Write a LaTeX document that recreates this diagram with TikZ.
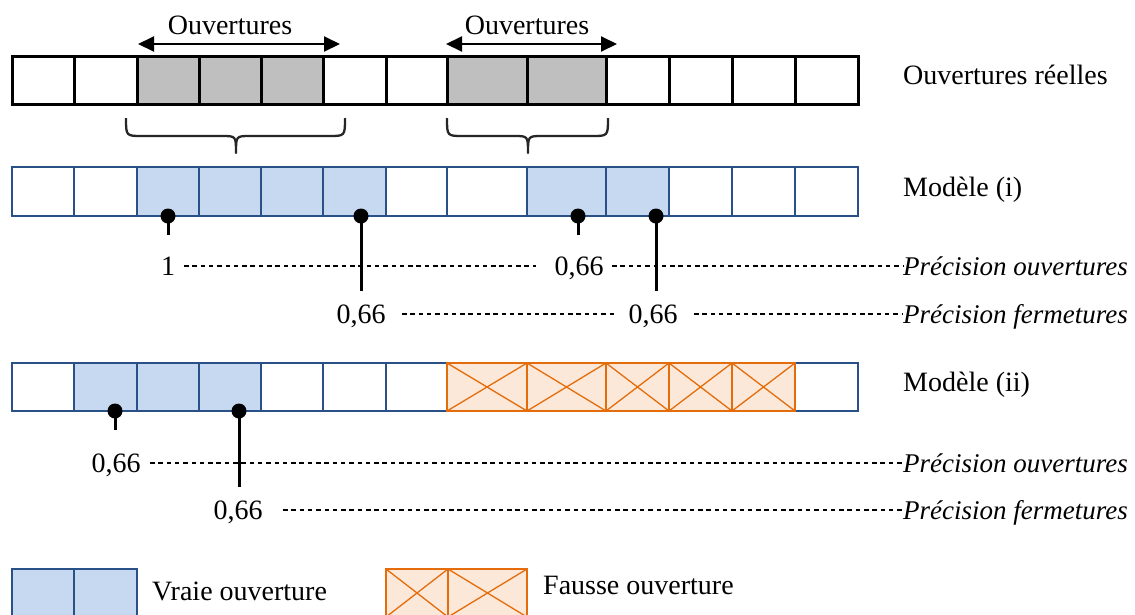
\documentclass[tikz,border=0pt]{standalone}
\usepackage{fontspec}
\setmainfont{Liberation Serif}
\usetikzlibrary{arrows.meta}
\definecolor{gfill}{HTML}{BFBFBF}
\definecolor{bfill}{HTML}{C6D9F0}
\definecolor{bline}{HTML}{2A5088}
\definecolor{ofill}{HTML}{FCE8D9}
\definecolor{oline}{HTML}{E46C0A}
\begin{document}
\begin{tikzpicture}[x=1pt,y=-1pt,
  lbl/.style={font=\fontsize{28}{32}\selectfont,inner sep=0pt},
  ilbl/.style={font=\fontsize{27}{32}\selectfont\itshape,inner sep=0pt},
  cellk/.style={draw=black,line width=3pt},
  cellb/.style={draw=bline,line width=2.6pt},
  ocellfill/.style={fill=ofill},
  ocellline/.style={draw=oline,line width=2.5pt},
  odiag/.style={draw=oline,line width=1.3pt},
  dashline/.style={draw=black,line width=1.1pt,dash pattern=on 4.5pt off 3.8pt},
  pinline/.style={draw=black,line width=3pt},
  pindot/.style={fill=black},
  bracel/.style={draw=black!85,line width=2.3pt,line join=round},
  dblarrow/.style={{Triangle[length=16pt,width=15pt]}-{Triangle[length=16pt,width=15pt]},line width=2pt}
]
\clip (0,0) rectangle (1135,614);
\fill[white] (0,0) rectangle (1135,614);

% ---------- Row 1 : real openings ----------
\foreach \a/\b/\f in {12/74/white,74/137/white,137/199/gfill,199/261/gfill,261/323/gfill,323/386/white,386/447/white,447/527/gfill,527/606/gfill,606/669/white,669/732/white,732/795/white,795/858/white}
  \draw[cellk,fill=\f] (\a,56) rectangle (\b,104);

\node[lbl,anchor=base] (ov1) at (230,34) {Ouvertures};
\node[lbl,anchor=base] (ov2) at (527,34) {Ouvertures};
\coordinate (a1l) at (138,44); \coordinate (a1r) at (340,44);
\coordinate (a2l) at (446,44); \coordinate (a2r) at (617,44);
\draw[dblarrow] (a1l) -- (a1r);
\draw[dblarrow] (a2l) -- (a2r);
\node[lbl,anchor=base west] (reel) at (903,84) {Ouvertures réelles};

% braces
\draw[bracel] (126,118) .. controls (126,136) .. (142,136) -- (222,136)
  .. controls (236,136) .. (236,153) .. controls (236,136) .. (250,136) -- (329,136)
  .. controls (345,136) .. (345,118);
\draw[bracel] (447,118) .. controls (447,136) .. (463,136) -- (514,136)
  .. controls (528,136) .. (528,153) .. controls (528,136) .. (542,136) -- (592,136)
  .. controls (608,136) .. (608,118);

% ---------- Row 2 : model (i) ----------
\foreach \a/\b/\f in {12/74/white,74/137/white,137/199/bfill,199/261/bfill,261/323/bfill,323/386/bfill,386/447/white,447/527/white,527/606/bfill,606/669/bfill,669/732/white,732/795/white,795/858/white}
  \draw[cellb,fill=\f] (\a,167) rectangle (\b,216);
\node[lbl,anchor=base west] (m1) at (903,196) {Modèle (i)};

% dashed lines model (i)
\coordinate (d1a) at (184,266); \coordinate (d1b) at (536,266);
\coordinate (d1c) at (612,266); \coordinate (d1d) at (903,266);
\coordinate (d2a) at (402,314); \coordinate (d2b) at (614,314);
\coordinate (d2c) at (694,314); \coordinate (d2d) at (903,314);
\draw[dashline] (d1a) -- (d1b);
\draw[dashline] (d1c) -- (d1d);
\draw[dashline] (d2a) -- (d2b);
\draw[dashline] (d2c) -- (d2d);
\node[lbl,anchor=base] (v11) at (168,275) {1};
\node[lbl,anchor=base] (v12) at (579,275) {0,66};
\node[lbl,anchor=base] (v13) at (361,323) {0,66};
\node[lbl,anchor=base] (v14) at (653,323) {0,66};
\node[ilbl,anchor=base west] (po1) at (903,275) {Précision ouvertures};
\node[ilbl,anchor=base west] (pf1) at (903,323) {Précision fermetures};

% pins model (i)
\coordinate (p1) at (168,216); \coordinate (p1e) at (168,235);
\coordinate (p2) at (361,216); \coordinate (p2e) at (361,291);
\coordinate (p3) at (578,216); \coordinate (p3e) at (578,235);
\coordinate (p4) at (656,216); \coordinate (p4e) at (656,291);
\draw[pinline] (p1) -- (p1e);
\draw[pinline] (p2) -- (p2e);
\draw[pinline] (p3) -- (p3e);
\draw[pinline] (p4) -- (p4e);
\foreach \p in {p1,p2,p3,p4} \fill[pindot] (\p) circle (7.5pt);

% ---------- Row 3 : model (ii) ----------
\foreach \a/\b/\f in {12/74/white,74/137/bfill,137/199/bfill,199/261/bfill,261/323/white,323/386/white,386/447/white,795/858/white}
  \draw[cellb,fill=\f] (\a,363) rectangle (\b,411);
\draw[cellb] (447,363) -- (795,363) (447,411) -- (795,411);
\foreach \a/\b in {447/527,527/606,606/669,669/732,732/795}{
  \fill[ocellfill] (\a,363) rectangle (\b,411);
  \draw[odiag] (\a,363) -- (\b,411) (\a,411) -- (\b,363);
}
\foreach \a/\b in {447/527,527/606,606/669,669/732,732/795}
  \draw[ocellline] (\a,363) rectangle (\b,411);
\node[lbl,anchor=base west] (m2) at (903,391) {Modèle (ii)};

\coordinate (e1a) at (150,463); \coordinate (e1b) at (903,463);
\coordinate (e2a) at (283,510); \coordinate (e2b) at (903,510);
\draw[dashline] (e1a) -- (e1b);
\draw[dashline] (e2a) -- (e2b);
\node[lbl,anchor=base] (v21) at (116,472) {0,66};
\node[lbl,anchor=base] (v22) at (238,519) {0,66};
\node[ilbl,anchor=base west] (po2) at (903,472) {Précision ouvertures};
\node[ilbl,anchor=base west] (pf2) at (903,519) {Précision fermetures};

\coordinate (q1) at (115,411); \coordinate (q1e) at (115,430);
\coordinate (q2) at (239,411); \coordinate (q2e) at (239,487);
\draw[pinline] (q1) -- (q1e);
\draw[pinline] (q2) -- (q2e);
\foreach \p in {q1,q2} \fill[pindot] (\p) circle (7.5pt);

% ---------- Legend ----------
\foreach \a/\b in {12/74,74/137}
  \draw[cellb,fill=bfill] (\a,569) rectangle (\b,617);
\foreach \a/\b in {386/448,448/527}{
  \fill[ocellfill] (\a,569) rectangle (\b,617);
  \draw[odiag] (\a,569) -- (\b,617) (\a,617) -- (\b,569);
}
\foreach \a/\b in {386/448,448/527}
  \draw[ocellline] (\a,569) rectangle (\b,617);
\node[lbl,anchor=base west] (lv) at (152,600) {Vraie ouverture};
\node[lbl,anchor=base west] (lf) at (543,594) {Fausse ouverture};
\end{tikzpicture}
\end{document}
